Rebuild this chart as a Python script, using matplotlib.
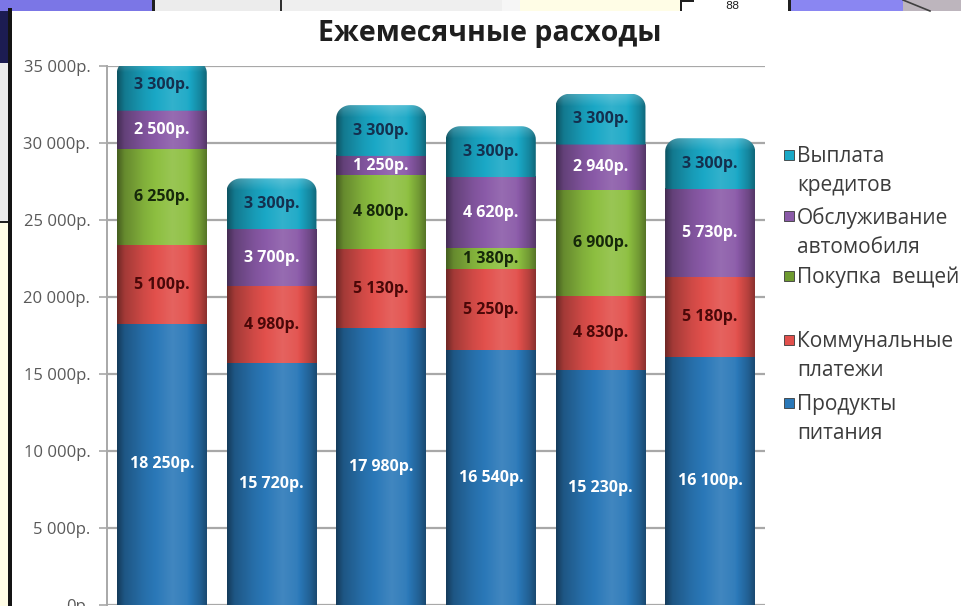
import numpy as np
import matplotlib.pyplot as plt
from matplotlib.path import Path
from matplotlib.patches import PathPatch, Rectangle
from matplotlib.lines import Line2D
from matplotlib.colors import to_rgb
from matplotlib.ticker import FuncFormatter

plt.rcParams['font.family'] = ['Open Sans', 'DejaVu Sans']

# monthly expenses, bottom to top of each column
food      = [18250, 15720, 17980, 16540, 15230, 16100]
utilities = [5100, 4980, 5130, 5250, 4830, 5180]
goods     = [6250, 0, 4800, 1380, 6900, 0]
car       = [2500, 3700, 1250, 4620, 2940, 5730]
loans     = [3300, 3300, 3300, 3300, 3300, 3300]

series = [food, utilities, goods, car, loans]
colors = ['#2a78b8', '#e2504c', '#8dbf40', '#8a5aa8', '#1aa8c6']
label_colors = ['white', '#4a0808', '#16280a', 'white', '#14304e']

legend_labels = ['Выплата\nкредитов', 'Обслуживание\nавтомобиля', 'Покупка  вещей',
                 'Коммунальные\nплатежи', 'Продукты\nпитания']
legend_colors = ['#1aa8c6', '#8a5aa8', '#6e9a30', '#e2504c', '#2a78b8']

yticks = [0, 5000, 10000, 15000, 20000, 25000, 30000, 35000]


def rub(v):
    return f"{v:,}".replace(",", " ") + "р."


# horizontal shading that makes a flat bar look like a cylinder
u_pts = [0.0, 0.08, 0.3, 0.62, 0.78, 0.93, 1.0]
m_pts = [0.50, 0.72, 0.92, 1.12, 1.05, 0.80, 0.62]


def cylinder_img(color, rows, top_glow=0):
    base = np.array(to_rgb(color))
    u = np.linspace(0, 1, 80)
    m = np.interp(u, u_pts, m_pts)
    col = np.empty((80, 3))
    for k in range(80):
        if m[k] <= 1:
            col[k] = base * m[k]
        else:
            col[k] = base + (1 - base) * (m[k] - 1) * 0.9
    img = np.repeat(col[None, :, :], rows, axis=0)
    if top_glow:
        g = np.zeros(rows)
        g[-top_glow:] = np.linspace(0, 0.4, top_glow)
        img = img + (1 - img) * g[:, None, None] * 0.5
    return np.clip(img, 0, 1)


def rounded_top(x0, x1, y0, y1, rx, ry):
    t = np.linspace(np.pi, np.pi / 2, 12)
    left = np.column_stack([x0 + rx + rx * np.cos(t), y1 - ry + ry * np.sin(t)])
    t = np.linspace(np.pi / 2, 0, 12)
    right = np.column_stack([x1 - rx + rx * np.cos(t), y1 - ry + ry * np.sin(t)])
    verts = np.vstack([[x0, y0], left, right, [x1, y0], [x0, y0]])
    codes = [Path.MOVETO] + [Path.LINETO] * (len(verts) - 2) + [Path.CLOSEPOLY]
    return Path(verts, codes)


fig = plt.figure(figsize=(9.61, 6.06), dpi=100)
fig.patch.set_facecolor('white')

# slide remnants around the chart frame
W, H = 961, 606


def frect(x, y, w, h, c):
    fig.patches.append(Rectangle((x / W, 1 - (y + h) / H), w / W, h / H,
                                 transform=fig.transFigure, facecolor=c,
                                 edgecolor='none', zorder=0))


frect(0, 0, 152, 11, '#7b76e6')
frect(152, 0, 3, 11, '#202020')
frect(155, 0, 125, 11, '#ececec')
frect(280, 0, 2, 11, '#303030')
frect(282, 0, 220, 11, '#efefef')
frect(502, 0, 18, 11, '#f6f6f6')
frect(520, 0, 160, 11, '#fffde6')
frect(680, 0, 2, 11, '#202020')
frect(682, 0, 12, 2, '#202020')
frect(694, 0, 94, 11, '#ffffff')
frect(788, 0, 3, 11, '#202020')
frect(791, 0, 112, 11, '#8a86f2')
frect(903, 0, 58, 11, '#bdb5bd')
fig.lines.append(Line2D([903 / W, 930 / W], [1.0, 1 - 11 / H],
                        transform=fig.transFigure, color='#404040', lw=1.2))
frect(0, 11, 8, 52, '#1c1c52')
frect(0, 63, 8, 159, '#ececec')
frect(0, 222, 8, 384, '#fffde6')
frect(0, 221, 8, 2, '#202020')
frect(8, 8, 4, 598, '#141414')
fig.text(732 / W, 1 - 6 / H, '88', fontsize=8, color='#202020',
         ha='center', va='center', family='DejaVu Sans')

ax = fig.add_axes([107 / W, 1 - 605 / H, (765 - 107) / W, (605 - 66) / H])
ax.set_facecolor('none')
ax.set_xlim(-0.5, 5.5)
ax.set_ylim(0, 35000)

width = 0.82
ry = 850
rx = 0.13
for i in range(6):
    bottom = 0
    last = max(j for j in range(len(series)) if series[j][i] > 0)
    for j, vals in enumerate(series):
        v = vals[i]
        if v == 0:
            continue
        top = bottom + v
        x0, x1 = i - width / 2, i + width / 2
        if j == last:
            rows = 60
            img = cylinder_img(colors[j], rows, top_glow=int(rows * ry / v))
        else:
            img = cylinder_img(colors[j], 4)
        im = ax.imshow(img, extent=(x0, x1, bottom, top), origin='lower',
                       aspect='auto', interpolation='bilinear', zorder=3)
        if j == last:
            clip = PathPatch(rounded_top(x0, x1, bottom, top, rx, ry),
                             transform=ax.transData, facecolor='none',
                             edgecolor='none')
            im.set_clip_path(clip)
        ax.text(i, bottom + v / 2, rub(v), ha='center', va='center',
                fontsize=11.5, fontweight='bold', color=label_colors[j], zorder=5)
        bottom = top

ax.set_xlim(-0.5, 5.5)
ax.set_ylim(0, 35000)
ax.set_yticks(yticks)
ax.yaxis.set_major_formatter(FuncFormatter(lambda v, p: rub(int(v))))
ax.grid(axis='y', color='#a8a8a8', lw=1.6, zorder=1)
ax.set_axisbelow(True)
ax.set_xticks([])
for s in ['top', 'right', 'bottom']:
    ax.spines[s].set_visible(False)
ax.spines['left'].set_color('#a8a8a8')
ax.spines['left'].set_linewidth(1.4)
ax.tick_params(axis='y', length=6, width=1.2, color='#a8a8a8', pad=6,
               labelsize=12, labelcolor='#595959')

fig.text(490 / W, 1 - 33 / H, 'Ежемесячные расходы', ha='center', va='center',
         fontsize=20.5, fontweight='bold', color='#1e1e1e')

# legend, one entry per series
leg_y = [155, 216, 276, 340, 403]
for lab, c, y in zip(legend_labels, legend_colors, leg_y):
    fig.patches.append(Rectangle((784 / W, 1 - (y + 5) / H), 10 / W, 10 / H,
                                 transform=fig.transFigure, facecolor=c,
                                 edgecolor='#3a3a3a', lw=0.6, zorder=3))
    fig.text(797 / W, 1 - (y - 9) / H, lab, ha='left', va='top',
             fontsize=15, color='#3c3c3c', linespacing=1.5)

fig.savefig('out.png', dpi=100)
